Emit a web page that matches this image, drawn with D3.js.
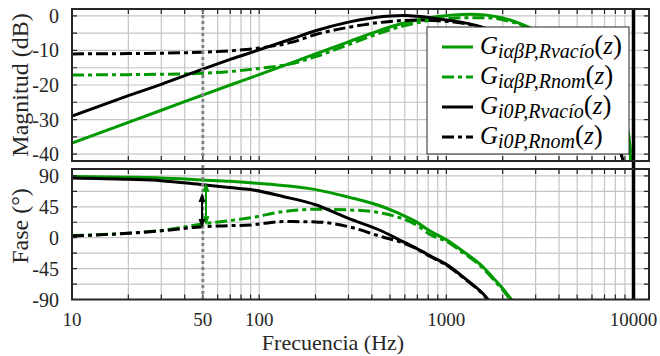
<!DOCTYPE html>
<html>
<head>
<meta charset="utf-8">
<script src="https://cdn.jsdelivr.net/npm/d3@7"></script>
<style>
  body { margin: 0; background: #fff; }
</style>
</head>
<body>
<div id="chart"></div>
<script>
// frequency points (Hz)
const freq_mag = [10, 20, 30, 50, 70, 100, 150, 200, 300, 400, 500, 600, 700, 900, 1100, 1334, 1600, 2000, 2500, 3000, 4000, 5000, 6000, 7000, 8000, 9000, 9500, 10000];
const mag_green_vacio = [-36.8, -30.8, -27.3, -22.9, -20.0, -17.0, -13.5, -11.0, -7.5, -5.0, -3.2, -2.0, -1.2, -0.2, 0.3, 0.5, 0.3, -0.6, -2.3, -4.2, -7.8, -11.5, -15.0, -19.0, -23.5, -30.0, -36.0, -60];
const mag_green_nom = [-17.1, -17.0, -16.9, -16.6, -16.1, -15.2, -13.8, -11.8, -8.3, -5.8, -4.0, -2.8, -2.0, -1.0, -0.6, -0.5, -0.5, -1.1, -2.6, -4.4, -8.0, -11.7, -15.2, -19.2, -23.7, -30.2, -36.2, -60];
const mag_black_vacio = [-29.0, -23.1, -19.8, -15.4, -12.6, -9.8, -6.6, -4.3, -1.8, -0.6, 0.0, 0.1, -0.1, -0.8, -1.5, -2.3, -3.5, -5.5, -8.0, -10.5, -15.0, -19.5, -24.0, -29.0, -35.0, -44.0, -50.0, -70];
const mag_black_nom = [-11.0, -10.9, -10.8, -10.5, -10.1, -9.3, -7.6, -5.4, -3.3, -2.2, -1.6, -1.3, -1.2, -1.4, -1.8, -2.5, -3.6, -5.6, -8.1, -10.6, -15.1, -19.6, -24.1, -29.1, -35.1, -44.1, -50.1, -70];

const freq_ph = [10, 20, 30, 50, 70, 90, 134, 200, 300, 457, 550, 692, 815, 1042, 1200, 1563, 1800, 2000, 2200, 2400];
const ph_green_vacio = [89, 88, 87, 84, 82, 80, 76, 70, 59, 45, 36, 23, 10, -6, -18, -42, -60, -74, -88, -100];
const ph_green_nom = [3, 6.5, 10.5, 20, 25, 29, 38, 41.5, 40.5, 35.6, 30, 18.5, 5, -8, -20, -44, -62, -76, -90, -102];
const ph_black_vacio = [87, 85, 83, 77, 73, 70, 60, 48, 28, 9, -2, -15.5, -26, -42, -55, -81, -100, -110, -120, -130];
const ph_black_nom = [2.5, 6.5, 10, 16, 17.5, 18.5, 23.5, 23, 16, 1, -5, -16, -27, -43, -56, -82, -101, -111, -121, -131];

// double arrows at 50 Hz (freq, from deg, to deg)
const arrows = [
  {freq: 52, from: 80, to: 18, color: "#009a00"},
  {freq: 49.5, from: 65, to: 14, color: "#000000"}
];

const mag_ticks = [0, -10, -20, -30, -40];
const ph_ticks = [90, 45, 0, -45, -90];
const freq_ticks = [10, 50, 100, 1000, 10000];

const series = [
  {name: "iαβP,Rvacío", mag: mag_green_vacio, ph: ph_green_vacio, color: "#009a00", dash: null},
  {name: "iαβP,Rnom", mag: mag_green_nom, ph: ph_green_nom, color: "#009a00", dash: "12,4,4,4"},
  {name: "i0P,Rvacío", mag: mag_black_vacio, ph: ph_black_vacio, color: "#000000", dash: null},
  {name: "i0P,Rnom", mag: mag_black_nom, ph: ph_black_nom, color: "#000000", dash: "12,4,4,4"}
];

function draw_chart()
{
    const width = 660, height = 356;
    const left = 72, right = 649;
    const top_panel = {y0: 9, y1: 161};
    const bot_panel = {y0: 169, y1: 299.5};
    const axis_col = "#262626";
    const serif = "'Liberation Serif', 'DejaVu Serif', serif";

    const svg = d3.select("#chart").append("svg")
        .attr("width", width)
        .attr("height", height)
        .attr("font-family", serif);

    const scale_x = d3.scaleLog().domain([10, 12100]).range([left, right]);
    const scale_mag = d3.scaleLinear().domain([-42, 2]).range([top_panel.y1, top_panel.y0]);
    const scale_ph = d3.scaleLinear().domain([-90, 100]).range([bot_panel.y1, bot_panel.y0]);

    const grid_freqs = [];
    [10, 100, 1000].forEach(d => { for (let k = 1; k <= 9; k++) grid_freqs.push(d * k); });
    grid_freqs.push(10000);

    const defs = svg.append("defs");
    defs.append("clipPath").attr("id", "clip_top").append("rect")
        .attr("x", left).attr("y", top_panel.y0).attr("width", right - left).attr("height", top_panel.y1 - top_panel.y0);
    defs.append("clipPath").attr("id", "clip_bot").append("rect")
        .attr("x", left).attr("y", bot_panel.y0).attr("width", right - left).attr("height", bot_panel.y1 - bot_panel.y0);

    const panels = [
        {panel: top_panel, scale_y: scale_mag, grid_y: d3.range(-40, 1, 5), key: "mag", freqs: freq_mag, clip: "clip_top", ticks: mag_ticks},
        {panel: bot_panel, scale_y: scale_ph, grid_y: d3.range(-90, 91, 22.5), key: "ph", freqs: freq_ph, clip: "clip_bot", ticks: ph_ticks}
    ];

    panels.forEach(p => {
        const g = svg.append("g");

        // grid
        g.selectAll(".vgrid").data(grid_freqs).join("line")
            .attr("x1", d => scale_x(d)).attr("x2", d => scale_x(d))
            .attr("y1", p.panel.y0).attr("y2", p.panel.y1)
            .attr("stroke", "#c4c4c4").attr("stroke-width", 1.2);
        g.selectAll(".hgrid").data(p.grid_y).join("line")
            .attr("x1", left).attr("x2", right)
            .attr("y1", d => p.scale_y(d)).attr("y2", d => p.scale_y(d))
            .attr("stroke", "#c4c4c4").attr("stroke-width", 1.2);

        // curves
        const line = d3.line()
            .x(d => scale_x(d[0]))
            .y(d => p.scale_y(d[1]))
            .curve(d3.curveMonotoneX);
        const curves = g.append("g").attr("clip-path", `url(#${p.clip})`);
        series.forEach(s => {
            curves.append("path")
                .datum(p.freqs.map((f, i) => [f, s[p.key][i]]))
                .attr("d", line)
                .attr("fill", "none")
                .attr("stroke", s.color)
                .attr("stroke-width", 3)
                .attr("stroke-dasharray", s.dash);
        });

        // ticks inside the box
        const tl = 5;
        g.selectAll(".tkb").data(grid_freqs).join("path")
            .attr("d", d => `M${scale_x(d)},${p.panel.y1}v${-tl}M${scale_x(d)},${p.panel.y0}v${tl}`)
            .attr("stroke", axis_col).attr("stroke-width", 1.2);
        g.selectAll(".tky").data(p.grid_y).join("path")
            .attr("d", d => `M${left},${p.scale_y(d)}h${tl}M${right},${p.scale_y(d)}h${-tl}`)
            .attr("stroke", axis_col).attr("stroke-width", 1.2);

        g.selectAll(".ylab").data(p.ticks).join("text")
            .attr("x", 59)
            .attr("y", d => p.scale_y(d) + 7)
            .attr("text-anchor", "end")
            .attr("fill", axis_col)
            .style("font-size", "20px")
            .text(d => d);
    });

    // vertical markers: 50 Hz (dotted) and 10 kHz
    svg.append("line")
        .attr("x1", scale_x(50)).attr("x2", scale_x(50))
        .attr("y1", top_panel.y0).attr("y2", bot_panel.y1)
        .attr("stroke", "#858585").attr("stroke-width", 3)
        .attr("stroke-dasharray", "3,3");
    svg.append("line")
        .attr("x1", scale_x(10000)).attr("x2", scale_x(10000))
        .attr("y1", top_panel.y0).attr("y2", bot_panel.y1)
        .attr("stroke", "#000").attr("stroke-width", 3.5);

    // double-headed arrows
    arrows.forEach(a => {
        const x = scale_x(a.freq), y_a = scale_ph(a.from), y_b = scale_ph(a.to);
        const head = 9, hw = 3.5;
        svg.append("line")
            .attr("x1", x).attr("x2", x)
            .attr("y1", y_a + head - 1).attr("y2", y_b - head + 1)
            .attr("stroke", a.color).attr("stroke-width", 2);
        svg.append("path")
            .attr("d", `M${x},${y_a}L${x - hw},${y_a + head}L${x + hw},${y_a + head}Z M${x},${y_b}L${x - hw},${y_b - head}L${x + hw},${y_b - head}Z`)
            .attr("fill", a.color);
    });

    // box borders
    [top_panel, bot_panel].forEach(pn => {
        svg.append("rect")
            .attr("x", left).attr("y", pn.y0)
            .attr("width", right - left).attr("height", pn.y1 - pn.y0)
            .attr("fill", "none")
            .attr("stroke", axis_col).attr("stroke-width", 2);
    });

    // x tick labels
    svg.selectAll(".xlab").data(freq_ticks).join("text")
        .attr("x", d => scale_x(d))
        .attr("y", 326)
        .attr("text-anchor", "middle")
        .attr("fill", axis_col)
        .style("font-size", "19px")
        .text(d => d);

    svg.append("text")
        .attr("x", 333).attr("y", 350)
        .attr("text-anchor", "middle")
        .attr("fill", axis_col)
        .style("font-size", "22px")
        .text("Frecuencia (Hz)");

    svg.append("text")
        .attr("transform", `translate(28, ${(top_panel.y0 + top_panel.y1) / 2}) rotate(-90)`)
        .attr("text-anchor", "middle")
        .attr("fill", axis_col)
        .style("font-size", "24px")
        .text("Magnitud (dB)");

    svg.append("text")
        .attr("transform", `translate(28, 226) rotate(-90)`)
        .attr("text-anchor", "middle")
        .attr("fill", axis_col)
        .style("font-size", "24px")
        .text("Fase (°)");

    // legend
    const legend = svg.append("g").attr("transform", "translate(427, 27)");
    legend.append("rect")
        .attr("width", 202).attr("height", 127)
        .attr("fill", "#fff")
        .attr("stroke", "#262626").attr("stroke-width", 1);

    series.forEach((s, i) => {
        const cy = 20 + i * 30;
        legend.append("line")
            .attr("x1", 15).attr("x2", 46)
            .attr("y1", cy).attr("y2", cy)
            .attr("stroke", s.color).attr("stroke-width", 3)
            .attr("stroke-dasharray", s.dash ? "12,4,4,4" : null);
        const t = legend.append("text")
            .attr("x", 53).attr("y", cy + 6.5)
            .attr("fill", "#000")
            .style("font-size", "25px");
        t.append("tspan").style("font-style", "italic").text("G");
        t.append("tspan").attr("dy", 4).style("font-style", "italic").style("font-size", "20px").text(s.name);
        t.append("tspan").attr("dy", -4).style("font-size", "27px").text("(");
        t.append("tspan").style("font-style", "italic").text("z");
        t.append("tspan").style("font-size", "27px").text(")");
    });
}
draw_chart();
</script>
</body>
</html>
